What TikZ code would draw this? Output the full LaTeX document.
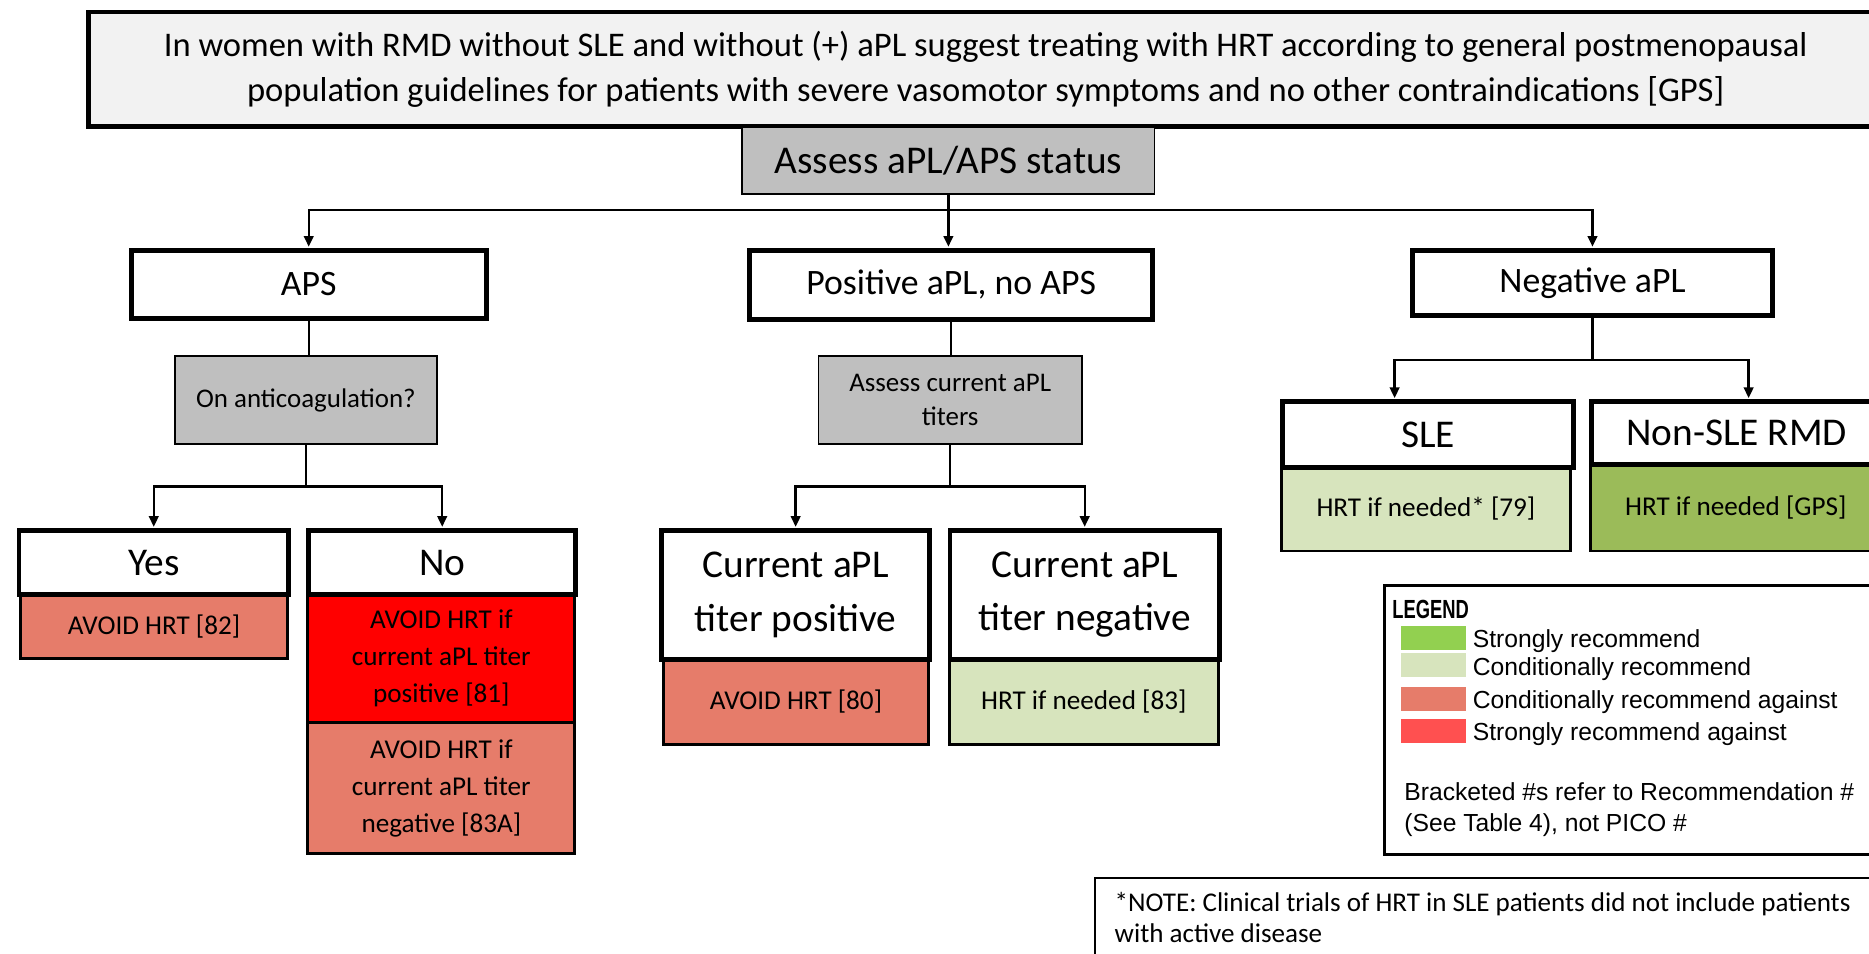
\documentclass[tikz,border=0pt]{standalone}
\usepackage{fontspec}
\setmainfont{Carlito}
\newfontfamily\legendfont{Liberation Sans}
\newfontfamily\legendnarrow[FakeStretch=0.7]{Liberation Sans}
\usetikzlibrary{positioning, arrows.meta}
\definecolor{titlegray}{HTML}{F2F2F2}
\definecolor{askgray}{HTML}{BFBFBF}
\definecolor{condagainst}{HTML}{E67C6A}
\definecolor{strongagainst}{HTML}{FF0000}
\definecolor{condrec}{HTML}{D7E4BD}
\definecolor{strongrec}{HTML}{9BBB59}
\definecolor{keygreen}{HTML}{92D050}
\definecolor{keyred}{HTML}{FF5050}
\newcommand{\fs}[2]{\fontsize{#1}{#2}\selectfont}
\tikzset{
  headbox/.style={draw, line width=4pt, fill=white, anchor=north west, inner sep=0pt, align=center, font=\fs{33}{45}},
  askbox/.style={draw, line width=1.3pt, fill=askgray, anchor=north west, inner sep=0pt, align=center, font=\fs{22.6}{29}},
  resbox/.style={draw, line width=2.5pt, anchor=north west, inner sep=0pt, align=center, font=\fs{22.8}{31}},
  link/.style={line width=2pt, -{Triangle[length=9pt,width=8pt]}, shorten >=1pt},
  swatch/.style={anchor=north west, minimum width=55pt, minimum height=20pt, inner sep=0pt},
}
\begin{document}
\begin{tikzpicture}[x=1pt,y=-1pt]
        \clip (0,0) rectangle (1568,800);
        \fill[white] (0,0) rectangle (1568,800);
        %-----------------------------------------------
        \node[draw, line width=4pt, fill=titlegray, anchor=north west, inner sep=0pt, align=center,
              minimum width=1506pt, minimum height=96pt, font=\fs{29}{38}] (title) at (72,8)
              {In women with RMD without SLE and without (+) aPL suggest treating with HRT according to general postmenopausal\\
               population guidelines for patients with severe vasomotor symptoms and no other contraindications [GPS]};
        \node[draw, line width=1.3pt, fill=askgray, anchor=north west, minimum width=346pt, minimum height=56pt,
              font=\fs{33}{36}] (assess) at (622,106) {Assess aPL/APS status};
        %-----------------------------------------------
        \node[headbox, minimum width=298pt, minimum height=57pt, font=\fs{30}{34}] (aps) at (108,208) {APS};
        \node[headbox, minimum width=338pt, minimum height=58pt, font=\fs{30}{34}] (pos) at (627,208) {Positive aPL, no APS};
        \node[headbox, minimum width=302pt, minimum height=55pt, font=\fs{30}{34}] (neg) at (1183,208) {Negative aPL};
        \draw[link] (assess.south) -- (assess.south |- pos.north);
        \draw[link] (assess.south) -- ++(0,13) -| (aps.north);
        \draw[link] (assess.south) -- ++(0,13) -| (neg.north);
        %-----------------------------------------------
        \node[askbox, minimum width=220pt, minimum height=74pt] (anti) at (146,298) {On anticoagulation?};
        \node[askbox, minimum width=221pt, minimum height=74pt] (titers) at (686,298) {Assess current aPL\\titers};
        \draw[line width=2pt] (aps.south) -- (aps.south |- anti.north);
        \draw[line width=2pt] (pos.south) -- (pos.south |- titers.north);
        %-----------------------------------------------
        \node[resbox, fill=condagainst, minimum width=224pt, minimum height=54pt] (yesres) at (16,497) {AVOID HRT [82]};
        \node[resbox, fill=strongagainst, minimum width=224pt, minimum height=108pt] (nores1) at (257,497)
              {AVOID HRT if\\current aPL titer\\positive [81]};
        \node[resbox, fill=condagainst, minimum width=224pt, minimum height=110pt] (nores2) at (257,605)
              {AVOID HRT if\\current aPL titer\\negative [83A]};
        \node[headbox, minimum width=226pt, minimum height=54pt] (yes) at (14,443) {Yes};
        \node[headbox, minimum width=224pt, minimum height=54pt] (no) at (257,443) {No};
        \draw[link] (anti.south) -- ++(0,35) -| (yes.north);
        \draw[link] (anti.south) -- ++(0,35) -| (no.north);
        %-----------------------------------------------
        \node[resbox, fill=condagainst, minimum width=223pt, minimum height=72pt] (cposres) at (555,551) {AVOID HRT [80]};
        \node[resbox, fill=condrec, minimum width=226pt, minimum height=72pt] (cnegres) at (795,551) {HRT if needed [83]};
        \node[headbox, minimum width=225pt, minimum height=108pt] (cpos) at (553,443) {Current aPL\\titer positive};
        \node[headbox, minimum width=226pt, minimum height=108pt] (cneg) at (795,443) {Current aPL\\titer negative};
        \draw[link] (titers.south) -- ++(0,35) -| (cpos.north);
        \draw[link] (titers.south) -- ++(0,35) -| (cneg.north);
        %-----------------------------------------------
        \node[resbox, fill=condrec, minimum width=242pt, minimum height=71pt] (sleres) at (1074,390) {HRT if needed* [79]};
        \node[resbox, fill=strongrec, minimum width=244pt, minimum height=73pt] (nonsleres) at (1333,388) {HRT if needed [GPS]};
        \node[headbox, minimum width=244pt, minimum height=55pt] (sle) at (1074,335) {SLE};
        \node[headbox, minimum width=244pt, minimum height=53pt] (nonsle) at (1333,335) {Non-SLE RMD};
        \draw[link] (neg.south) -- ++(0,35) -| ([xshift=-28pt]sle.north);
        \draw[link] (neg.south) -- ++(0,35) -| ([xshift=10pt]nonsle.north);
        %-----------------------------------------------
        \node[draw, line width=2.5pt, anchor=north west, minimum width=420pt, minimum height=226pt] (legend) at (1160,490) {};
        \node[anchor=west, inner sep=0pt, font=\legendnarrow\bfseries\fs{22}{24}] (legtitle) at (1168,511) {LEGEND};
        \foreach \c/\t/\y [count=\j] in {keygreen/Strongly recommend/525,condrec/Conditionally recommend/548,
                                         condagainst/Conditionally recommend against/576,keyred/Strongly recommend against/603}
        {
            \node[swatch, fill=\c] (sw\j) at (1175,\y) {};
            \node[right=5pt of sw\j.north east, anchor=west, yshift=-13pt, inner sep=0pt, font=\legendfont\fs{20.7}{22}] (key\j) {\t};
        }
        \node[anchor=north west, inner sep=0pt, align=left, font=\legendfont\fs{20.7}{26}] (brackets) at (1178,656)
              {Bracketed \#s refer to Recommendation \#\\(See Table 4), not PICO \#};
        %-----------------------------------------------
        \node[draw, line width=1.5pt, anchor=north west, minimum width=660pt, minimum height=80pt] (note) at (918,736) {};
        \node[anchor=north west, inner sep=0pt, align=left, font=\fs{22.7}{26}] (notetext) at (935,748)
              {*NOTE: Clinical trials of HRT in SLE patients did not include patients\\with active disease};
\end{tikzpicture}
\end{document}
